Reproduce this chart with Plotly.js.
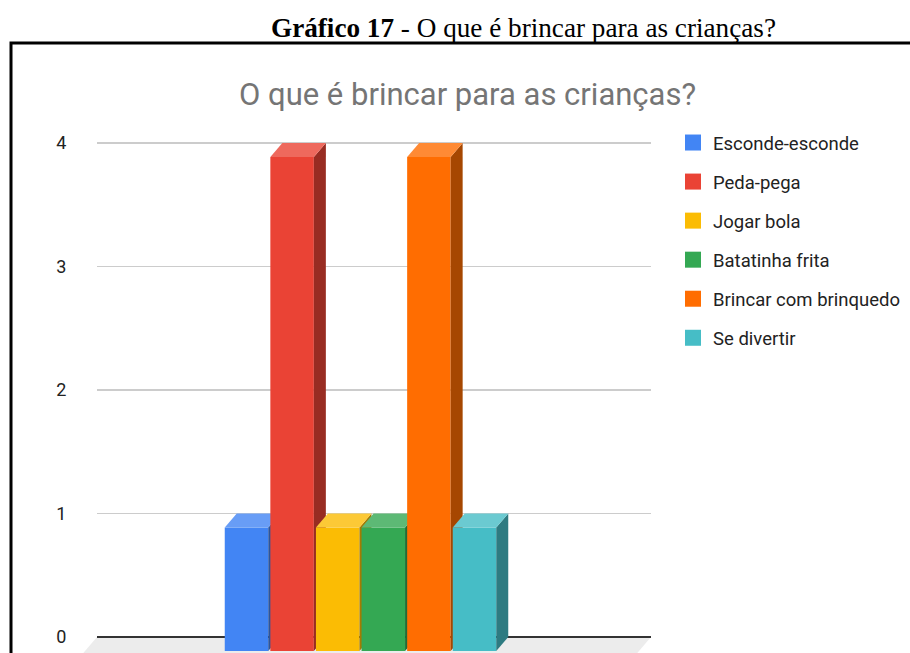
<!DOCTYPE html>
<html>
<head>
<meta charset="utf-8">
<script src="https://cdn.plot.ly/plotly-3.0.1.min.js"></script>
<style>
  html, body { margin: 0; padding: 0; background: #ffffff; }
  #chart { width: 910px; height: 653px; }
</style>
</head>
<body>
<div id="chart"></div>
<script>
// ---- data ----
const categories = ['Esconde-esconde', 'Peda-pega', 'Jogar bola', 'Batatinha frita', 'Brincar com brinquedo', 'Se divertir'];
const values = [1, 4, 1, 1, 4, 1];
const colors = ['#4285f4', '#ea4335', '#fbbc04', '#34a853', '#ff6d01', '#46bdc6'];
const yTickVals = [0, 1, 2, 3, 4];
const captionText = '<b>Gráfico 17</b> - O que é brincar para as crianças?';
const chartTitle = 'O que é brincar para as crianças?';

// ---- geometry (pixels) ----
const W = 910, H = 653;
const L = 97, R = 651, T = 110, B = 653;
const zeroPx = 637, pxPerUnit = 123.5;
const yMin = -(B - zeroPx) / pxPerUnit;
const yMax = yMin + (B - T) / pxPerUnit;
const xSpan = R - L;
const depthX = 12;                 // px == x units
const depthY = 14 / pxPerUnit;     // y units
const barW = 43.5, pitch = 45.6, groupShift = -1.5;
const n = categories.length;

function px2paperX(px) { return (px - L) / (R - L); }
function px2paperY(py) { return (B - py) / (B - T); }
function shade(hex, f) {
  const c = [1, 3, 5].map(k => parseInt(hex.substr(k, 2), 16));
  const r = c.map(v => f >= 0 ? Math.round(v + (255 - v) * f) : Math.round(v * (1 + f)));
  return 'rgb(' + r.join(',') + ')';
}

const traces = [];
const layout = {
  width: W, height: H,
  margin: { l: L, r: W - R, t: T, b: H - B, pad: 0 },
  paper_bgcolor: '#ffffff', plot_bgcolor: '#ffffff',
  font: { family: 'Roboto, Arial, sans-serif', color: '#222222' },
  showlegend: true,
  legend: {
    x: px2paperX(673), xanchor: 'left',
    y: px2paperY(124), yanchor: 'top',
    font: { size: 18.5, color: '#222222', family: 'Roboto, Arial, sans-serif' },
    traceorder: 'grouped', tracegroupgap: 12,
    bgcolor: 'rgba(0,0,0,0)', borderwidth: 0, itemclick: false
  },
  xaxis: { range: [0, xSpan], visible: false, fixedrange: true },
  yaxis: {
    range: [yMin, yMax], tickvals: yTickVals, ticktext: yTickVals.map(String),
    showgrid: true, gridcolor: '#cccccc', gridwidth: 1.3,
    zeroline: true, zerolinecolor: '#333333', zerolinewidth: 2,
    showline: false, ticks: 'outside', ticklen: 26, tickcolor: 'rgba(0,0,0,0)',
    tickfont: { size: 18, color: '#222222' }, fixedrange: true
  },
  shapes: [],
  annotations: []
};

// floor
const fdx = 13.7;
layout.shapes.push({
  type: 'path', xref: 'paper', yref: 'paper', layer: 'below',
  path: 'M' + px2paperX(L) + ',' + px2paperY(zeroPx) +
        ' L' + px2paperX(R) + ',' + px2paperY(zeroPx) +
        ' L' + px2paperX(R - fdx) + ',' + px2paperY(B) +
        ' L' + px2paperX(L - fdx) + ',' + px2paperY(B) + ' Z',
  fillcolor: '#ececec', line: { width: 0 }
});

// bars, each on its own overlaying subplot so later bars cover earlier ones
for (let i = 0; i < n; i++) {
  const k = i + 2;
  const xa = 'x' + k, ya = 'y' + k;
  layout['xaxis' + k] = { overlaying: 'x', range: [0, xSpan], visible: false, fixedrange: true };
  layout['yaxis' + k] = { overlaying: 'y', range: [yMin, yMax], visible: false, fixedrange: true };
  const v = values[i];
  const back = xSpan / 2 + groupShift + (i - (n - 1) / 2) * pitch;
  const fx = back - depthX;
  const xl = fx - barW / 2, xr = fx + barW / 2;
  traces.push({
    type: 'bar', x: [fx], y: [v], base: [-depthY], width: [barW],
    xaxis: xa, yaxis: ya, marker: { color: colors[i], line: { width: 0 } },
    showlegend: false, hoverinfo: 'skip'
  });
  traces.push({
    type: 'scatter', mode: 'lines', xaxis: xa, yaxis: ya,
    x: [xr, xr + depthX, xr + depthX, xr, xr],
    y: [-depthY, 0, v, v - depthY, -depthY],
    fill: 'toself', fillcolor: shade(colors[i], -0.35), line: { width: 0 },
    showlegend: false, hoverinfo: 'skip'
  });
  traces.push({
    type: 'scatter', mode: 'lines', xaxis: xa, yaxis: ya,
    x: [xl, xr, xr + depthX, xl + depthX, xl],
    y: [v - depthY, v - depthY, v, v, v - depthY],
    fill: 'toself', fillcolor: shade(colors[i], 0.2), line: { width: 0 },
    showlegend: false, hoverinfo: 'skip'
  });
}

// legend entries
for (let i = 0; i < n; i++) {
  traces.push({
    type: 'scatter', mode: 'markers', x: [null], y: [null],
    name: categories[i], legendgroup: 'g' + i,
    marker: { symbol: 'square', size: 17, color: colors[i] },
    hoverinfo: 'skip'
  });
}

// outer border
layout.shapes.push({
  type: 'rect', xref: 'paper', yref: 'paper', layer: 'above',
  x0: px2paperX(11), x1: px2paperX(940), y0: px2paperY(43), y1: px2paperY(700),
  line: { color: '#000000', width: 3 }, fillcolor: 'rgba(0,0,0,0)'
});

// caption and chart title
layout.annotations.push({
  xref: 'paper', yref: 'paper', x: px2paperX(523), y: px2paperY(28),
  xanchor: 'center', yanchor: 'middle', showarrow: false,
  text: captionText,
  font: { family: 'Liberation Serif, Times New Roman, serif', size: 27.2, color: '#000000' }
});
layout.annotations.push({
  xref: 'paper', yref: 'paper', x: px2paperX(467.5), y: px2paperY(95),
  xanchor: 'center', yanchor: 'middle', showarrow: false,
  text: chartTitle,
  font: { family: 'Roboto, Arial, sans-serif', size: 31, color: '#757575' }
});

Plotly.newPlot('chart', traces, layout, { displayModeBar: false, staticPlot: true });
</script>
</body>
</html>
